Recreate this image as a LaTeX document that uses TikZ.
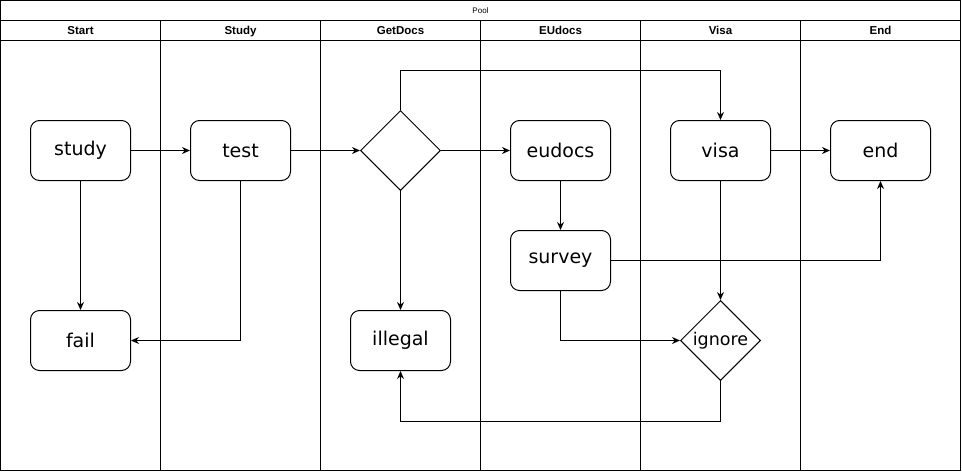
\documentclass[tikz,border=0pt]{standalone}
\usepackage{fontspec}
\setmainfont{DejaVu Sans}
\newfontfamily\hdfont{Liberation Sans}
\usetikzlibrary{shapes.geometric,arrows.meta,positioning,calc}

\begin{document}
\begin{tikzpicture}[x=1pt, y=-1pt, line width=1pt, >={Stealth[length=8pt,width=7pt]}]
   \useasboundingbox (-0.5,-0.5) rectangle (961.5,471.5);
   % pool and lanes
   \draw (0,0) rectangle (960,470);
   \draw (0,20) -- (960,20);
   \draw (0,40) -- (960,40);
   \node[font=\hdfont\fontsize{8}{8}\selectfont] (pool) at (480,10) {Pool};
   \foreach \x/\name in {0/Start,160/Study,320/GetDocs,480/EUdocs,640/Visa,800/End}{
     \draw (\x,20) -- (\x,470);
     \node[anchor=base,inner sep=0pt,font=\hdfont\bfseries\fontsize{11.5}{12}\selectfont] (lane\name) at (\x+80,34) {\name};
   }
   \begin{scope}[every node/.style={rectangle,rounded corners=9pt,draw,fill=white,minimum width=100pt,minimum height=60pt,font=\fontsize{19}{19}\selectfont}]
    \node (study) at (80,150) {study};
    \node (test) at (240,150) {test};
    \node (eudocs) at (560,150) {eudocs};
    \node (visa) at (720,150) {visa};
    \node (end) at (880,150) {end};
    \node (survey) at (560,260) {survey};
    \node (fail) at (80,340) {fail};
    \node (illegal) at (400,340) {illegal};
    \node (dec) [diamond,rounded corners=0pt,inner sep=0pt,minimum width=80pt,minimum height=80pt] at (400,150) {};
    \node (ignore) [diamond,rounded corners=0pt,inner sep=0pt,minimum width=80pt,minimum height=80pt,font=\fontsize{17.5}{17.5}\selectfont] at (720,340) {ignore};
   \end{scope}
   \begin{scope}[->]
    \draw (study) -- (test);
    \draw (test) -- (dec);
    \draw (dec) -- (eudocs);
    \draw (visa) -- (end);
    \draw (study) -- (fail);
    \draw (dec) -- (illegal);
    \draw (eudocs) -- (survey);
    \draw (visa) -- (ignore);
    \draw (dec.north) -- ++(0,-40) -| (visa.north);
    \draw (test.south) |- (fail.east);
    \draw (survey.east) -| (end.south);
    \draw (survey.south) |- (ignore.west);
    \draw (ignore.south) -- ++(0,40) -| (illegal.south);
   \end{scope}
\end{tikzpicture}
\end{document}
